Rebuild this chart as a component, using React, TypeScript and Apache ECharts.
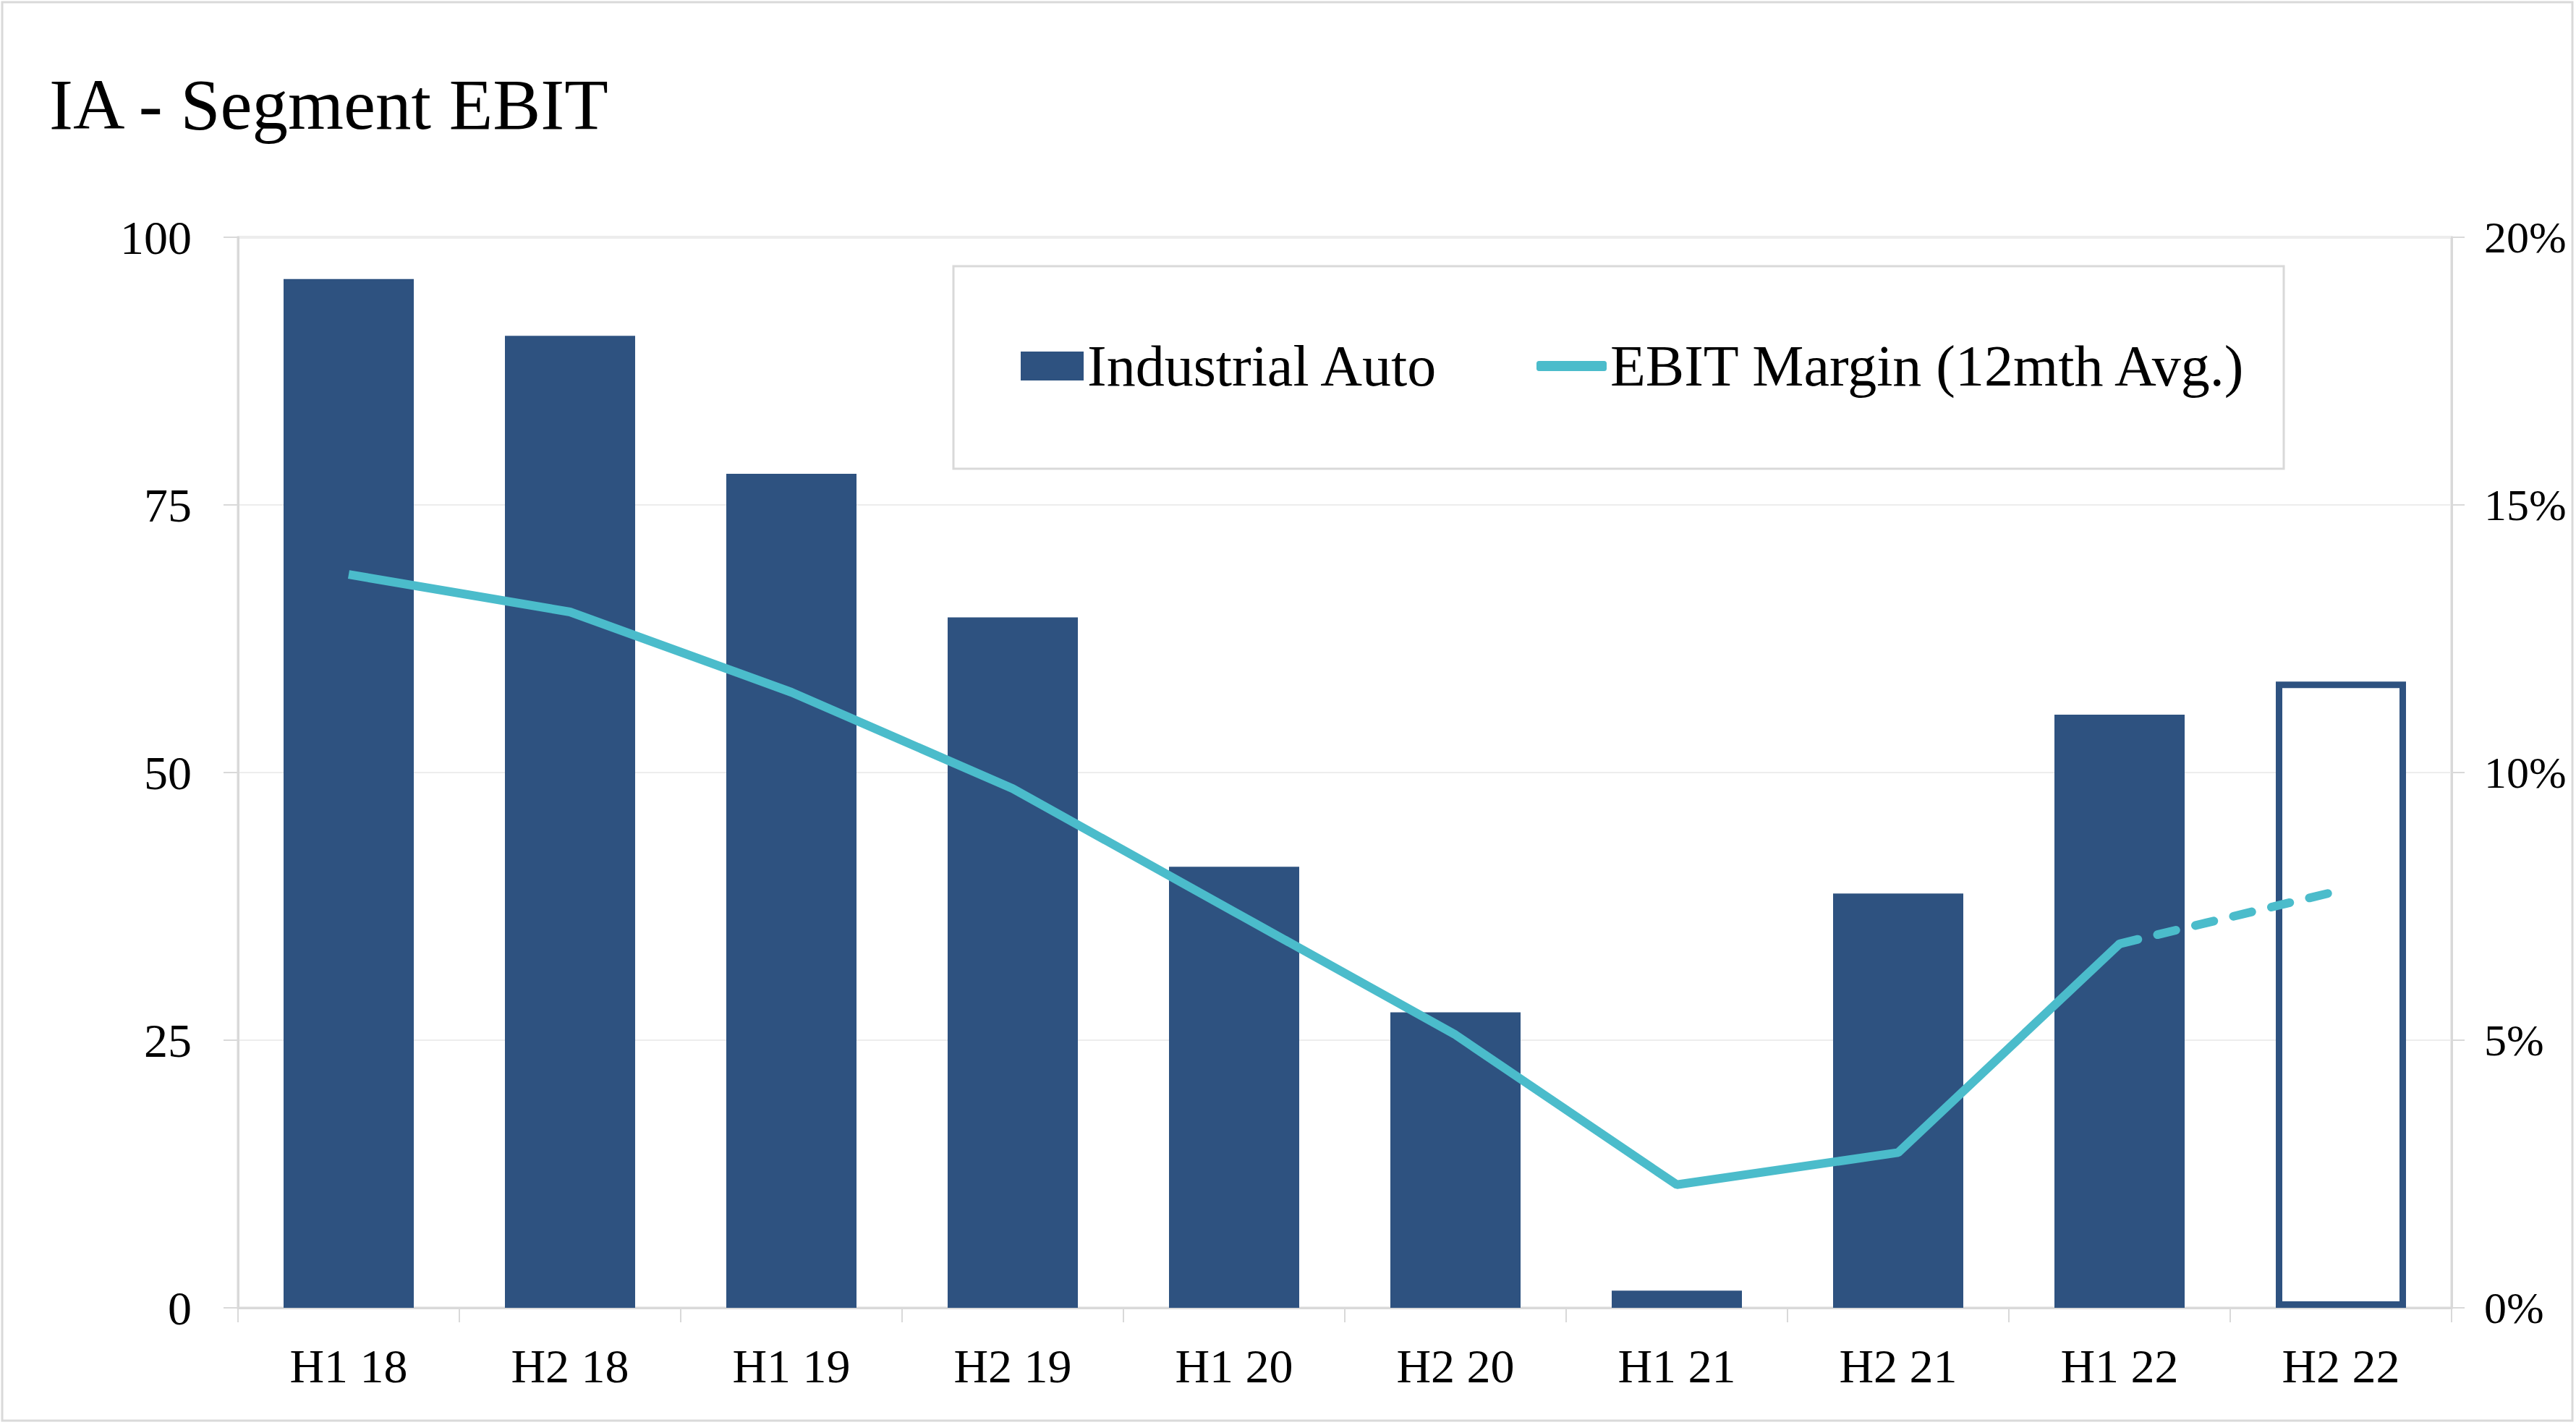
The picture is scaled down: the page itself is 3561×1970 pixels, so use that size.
import React, { useEffect, useRef } from "react";
import * as echarts from "echarts";

const categories = ["H1 18", "H2 18", "H1 19", "H2 19", "H1 20", "H2 20", "H1 21", "H2 21", "H1 22", "H2 22"];
const ebitValues = [96.1, 90.8, 77.9, 64.5, 41.2, 27.6, 1.6, 38.7, 55.4, 58.5];
const marginActual = [13.7, 13.0, 11.5, 9.7, 7.4, 5.1, 2.3, 2.9, 6.8, null];
const marginForecast = [null, null, null, null, null, null, null, null, 6.8, 7.8];
const outlinedIndex = 9;

const FONT = "Liberation Serif";
const BAR = "#2E5280";
const LINE = "#4BBCCB";
const GRAY = "#D9D9D9";

export default function App() {
  const ref = useRef<HTMLDivElement>(null);
  useEffect(() => {
    document.body.style.margin = "0";
    const chart = echarts.init(ref.current!, null, { renderer: "svg" });
    const barData = ebitValues.map((v, i) =>
      i === outlinedIndex
        ? { value: v, itemStyle: { color: "#FFFFFF", borderColor: BAR, borderWidth: 9 } }
        : v
    );
    chart.setOption({
      animation: false,
      backgroundColor: "#FFFFFF",
      textStyle: { fontFamily: FONT, color: "#000" },
      graphic: [
        {
          type: "rect",
          shape: { x: 3, y: 3, width: 3553, height: 1961 },
          style: { fill: "none", stroke: GRAY, lineWidth: 3 },
          silent: true,
        },
        {
          type: "text",
          x: 68,
          y: 144,
          style: { text: "IA - Segment EBIT", fontFamily: FONT, fontSize: 99, fill: "#000", verticalAlign: "middle" },
        },
        {
          type: "rect",
          shape: { x: 1318, y: 368, width: 1839, height: 280 },
          style: { fill: "none", stroke: GRAY, lineWidth: 3 },
          silent: true,
        },
      ],
      legend: [
        {
          data: ["Industrial Auto"],
          left: 1411,
          top: 466,
          padding: 0,
          itemWidth: 87,
          itemHeight: 40,
          icon: "rect",
          textStyle: { fontFamily: FONT, fontSize: 80, color: "#000" },
        },
        {
          data: ["EBIT Margin (12mth Avg.)"],
          left: 2124,
          top: 466,
          padding: 0,
          itemWidth: 97,
          itemHeight: 14,
          icon: "roundRect",
          textStyle: { fontFamily: FONT, fontSize: 80, color: "#000" },
        },
      ],
      grid: {
        left: 329,
        right: 172,
        top: 328,
        bottom: 162,
        show: true,
        borderColor: GRAY,
        borderWidth: 3,
      },
      xAxis: {
        type: "category",
        data: categories,
        boundaryGap: true,
        axisLine: { show: true, lineStyle: { color: GRAY, width: 3 } },
        axisTick: { show: true, length: 20, lineStyle: { color: GRAY, width: 2 } },
        axisLabel: { fontFamily: FONT, fontSize: 66, color: "#000", margin: 47 },
      },
      yAxis: [
        {
          type: "value",
          min: 0,
          max: 100,
          interval: 25,
          axisLine: { show: true, lineStyle: { color: GRAY, width: 3 } },
          axisTick: { show: true, length: 20, lineStyle: { color: GRAY, width: 2 } },
          axisLabel: { fontFamily: FONT, fontSize: 66, color: "#000", margin: 64 },
          splitLine: { show: true, lineStyle: { color: "#EDEDED", width: 2 } },
        },
        {
          type: "value",
          min: 0,
          max: 20,
          interval: 5,
          position: "right",
          axisLine: { show: true, lineStyle: { color: GRAY, width: 3 } },
          axisTick: { show: true, length: 18, lineStyle: { color: GRAY, width: 2 } },
          axisLabel: { fontFamily: FONT, fontSize: 62, color: "#000", margin: 45, formatter: "{value}%" },
          splitLine: { show: false },
        },
      ],
      series: [
        {
          name: "Industrial Auto",
          type: "bar",
          data: barData,
          barWidth: 180,
          itemStyle: { color: BAR },
          yAxisIndex: 0,
        },
        {
          name: "EBIT Margin (12mth Avg.)",
          type: "line",
          data: marginActual,
          yAxisIndex: 1,
          symbol: "none",
          showSymbol: false,
          itemStyle: { color: LINE },
          lineStyle: { color: LINE, width: 12 },
          z: 5,
        },
        {
          name: "EBIT Margin forecast",
          type: "line",
          data: marginForecast,
          yAxisIndex: 1,
          symbol: "none",
          showSymbol: false,
          itemStyle: { color: LINE },
          lineStyle: { color: LINE, width: 12, type: [26, 28], cap: "round" },
          z: 5,
        },
      ],
    });
    return () => chart.dispose();
  }, []);
  return <div ref={ref} style={{ width: 3561, height: 1970 }} />;
}
